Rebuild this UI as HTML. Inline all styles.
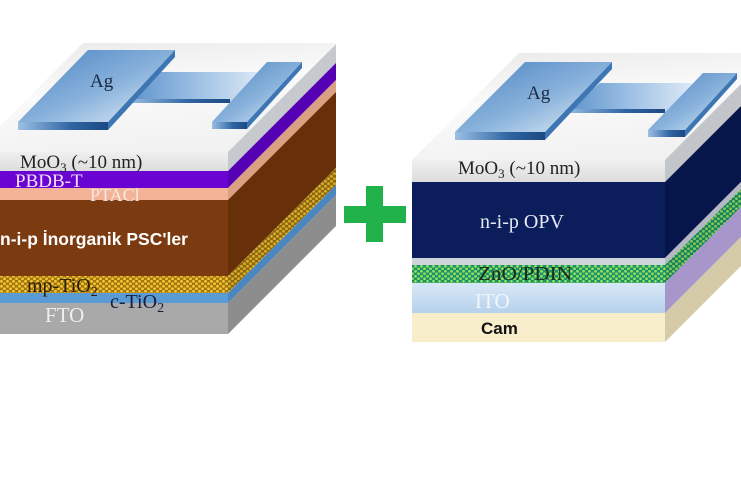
<!DOCTYPE html>
<html><head><meta charset="utf-8"><style>
html,body{margin:0;padding:0;background:#fff;}
svg{display:block;}
.s{font-family:"Liberation Serif",serif;}
.b{font-family:"Liberation Sans",sans-serif;font-weight:bold;}
</style></head><body>
<svg width="741" height="486" viewBox="0 0 741 486" xmlns="http://www.w3.org/2000/svg">
<defs>
<pattern id="py" width="6" height="5" patternUnits="userSpaceOnUse">
<rect width="6" height="5" fill="#a5760e"/>
<circle cx="1.5" cy="1.3" r="1.4" fill="#f4c935"/>
<circle cx="4.5" cy="3.8" r="1.4" fill="#f4c935"/>
</pattern>
<pattern id="pg" width="6" height="5" patternUnits="userSpaceOnUse">
<rect width="6" height="5" fill="#17946a"/>
<circle cx="1.5" cy="1.3" r="1.4" fill="#9ade5e"/>
<circle cx="4.5" cy="3.8" r="1.4" fill="#9ade5e"/>
</pattern>
<linearGradient id="top" x1="0" y1="0" x2="0.3" y2="1">
<stop offset="0" stop-color="#e9e9e9"/><stop offset="0.5" stop-color="#fafafa"/><stop offset="1" stop-color="#f2f2f2"/>
</linearGradient>
<linearGradient id="moo" x1="0" y1="0" x2="0" y2="1">
<stop offset="0" stop-color="#f0f0f0"/><stop offset="1" stop-color="#dcdcdc"/>
</linearGradient>
<linearGradient id="ag" x1="0" y1="0" x2="1" y2="1">
<stop offset="0" stop-color="#4a82c2"/><stop offset="0.55" stop-color="#8ab3dc"/><stop offset="1" stop-color="#e8f0f8"/>
</linearGradient>
<linearGradient id="agb" x1="0" y1="0" x2="1" y2="0">
<stop offset="0" stop-color="#5c92cc"/><stop offset="0.6" stop-color="#a8c8e8"/><stop offset="1" stop-color="#dfeaf6"/>
</linearGradient>
<linearGradient id="edge" x1="0" y1="0" x2="1" y2="0">
<stop offset="0" stop-color="#9cc0e4"/><stop offset="0.6" stop-color="#2e64a2"/><stop offset="1" stop-color="#1d4a82"/>
</linearGradient>
<linearGradient id="ito" x1="0" y1="0" x2="0" y2="1">
<stop offset="0" stop-color="#d8e8f6"/><stop offset="1" stop-color="#b7d2ec"/>
</linearGradient>
</defs>

<!-- LEFT BLOCK -->
<polygon points="-26,152 83,43 336,43 228,152" fill="url(#top)"/>
<!-- front -->
<rect x="0" y="152" width="228" height="19" fill="url(#moo)"/>
<rect x="0" y="171" width="228" height="17" fill="#6a04d2"/>
<rect x="0" y="188" width="228" height="12" fill="#f2b396"/>
<rect x="0" y="200" width="228" height="76" fill="#7b3a10"/>
<rect x="0" y="276" width="228" height="17" fill="url(#py)"/>
<rect x="0" y="293" width="228" height="10" fill="#5b9bd5"/>
<rect x="0" y="303" width="228" height="31" fill="#a9a9a9"/>
<!-- side -->
<polygon points="228,152 336,44 336,63 228,171" fill="#c6c9cd"/>
<polygon points="228,171 336,63 336,80 228,188" fill="#5500b4"/>
<polygon points="228,188 336,80 336,92 228,200" fill="#dba083"/>
<polygon points="228,200 336,92 336,168 228,276" fill="#673008"/>
<polygon points="228,276 336,168 336,185 228,293" fill="url(#py)"/>
<polygon points="228,276 336,168 336,185 228,293" fill="#000" opacity="0.12"/>
<polygon points="228,293 336,185 336,195 228,303" fill="#4a86c0"/>
<polygon points="228,303 336,195 336,226 228,334" fill="#8d8d8d"/>

<!-- left Ag -->
<polygon points="160,72 262,72 230,103 128,103" fill="url(#agb)"/>
<polygon points="128,99 230,99 230,103 128,103" fill="url(#edge)"/>
<polygon points="88,50 175,50 108,122 18,122" fill="url(#ag)"/>
<polygon points="18,122 108,122 108,130 18,130" fill="url(#edge)"/>
<polygon points="175,50 175,57 108,130 108,122" fill="#3e76b4"/>
<polygon points="267,62 302,62 247,122 212,122" fill="url(#ag)"/>
<polygon points="212,122 247,122 247,129 212,129" fill="url(#edge)"/>
<polygon points="302,62 302,68 247,129 247,122" fill="#3e76b4"/>

<!-- left texts -->
<text class="s" x="90" y="87" font-size="19" fill="#1b2a44">Ag</text>
<text class="s" x="20" y="168" font-size="19" fill="#222">MoO<tspan font-size="13" dy="4">3</tspan><tspan dy="-4"> (~10 nm)</tspan></text>
<text class="s" x="15" y="187" font-size="19" fill="#efe2ff">PBDB-T</text>
<text class="s" x="90" y="201" font-size="18" fill="#f8e8e4">PTACl</text>
<text class="b" x="0" y="245" font-size="17.5" fill="#ffffff">n-i-p İnorganik PSC'ler</text>
<text class="s" x="27" y="292" font-size="20" fill="#2b1c0c">mp-TiO<tspan font-size="14" dy="4">2</tspan></text>
<text class="s" x="110" y="308" font-size="20" fill="#1a1f3a">c-TiO<tspan font-size="14" dy="4">2</tspan></text>
<text class="s" x="45" y="322" font-size="21" fill="#eeeeee">FTO</text>

<!-- PLUS -->
<rect x="366" y="186" width="17" height="56" fill="#22b24c"/>
<rect x="344" y="206" width="62" height="17" fill="#22b24c"/>

<!-- RIGHT BLOCK -->
<polygon points="412,160 519,53 772,53 665,160" fill="url(#top)"/>
<rect x="412" y="160" width="253" height="22" fill="url(#moo)"/>
<rect x="412" y="182" width="253" height="76" fill="#0b1e5b"/>
<rect x="412" y="258" width="253" height="7" fill="#d0d4db"/>
<rect x="412" y="265" width="253" height="18" fill="url(#pg)"/>
<rect x="412" y="283" width="253" height="30" fill="url(#ito)"/>
<rect x="412" y="313" width="253" height="29" fill="#f9eecb"/>
<!-- side -->
<polygon points="665,160 772,53 772,75 665,182" fill="#c2c5ca"/>
<polygon points="665,182 772,75 772,151 665,258" fill="#06164a"/>
<polygon points="665,258 772,151 772,158 665,265" fill="#b4b8c4"/>
<polygon points="665,265 772,158 772,176 665,283" fill="url(#pg)"/>
<polygon points="665,265 772,158 772,176 665,283" fill="#000" opacity="0.1"/>
<polygon points="665,283 772,176 772,206 665,313" fill="#a696c9"/>
<polygon points="665,313 772,206 772,235 665,342" fill="#d6cba8"/>

<!-- right Ag -->
<polygon points="600,83 693,83 665,113 565,113" fill="url(#agb)"/>
<polygon points="565,109 665,109 665,113 565,113" fill="url(#edge)"/>
<polygon points="525,62 612,62 545,132 455,132" fill="url(#ag)"/>
<polygon points="455,132 545,132 545,140 455,140" fill="url(#edge)"/>
<polygon points="612,62 612,69 545,140 545,132" fill="#3e76b4"/>
<polygon points="703,73 737,73 685,130 648,130" fill="url(#ag)"/>
<polygon points="648,130 685,130 685,137 648,137" fill="url(#edge)"/>
<polygon points="737,73 737,79 685,137 685,130" fill="#3e76b4"/>

<!-- right texts -->
<text class="s" x="527" y="99" font-size="19" fill="#1b2a44">Ag</text>
<text class="s" x="458" y="174" font-size="19" fill="#222">MoO<tspan font-size="13" dy="4">3</tspan><tspan dy="-4"> (~10 nm)</tspan></text>
<text class="s" x="480" y="228" font-size="20" fill="#e6eaf5">n-i-p OPV</text>
<text class="s" x="478" y="280" font-size="20" fill="#1a2a1a" textLength="94" lengthAdjust="spacingAndGlyphs">ZnO/PDIN</text>
<text class="s" x="475" y="308" font-size="21" fill="#f2f6fb">ITO</text>
<text class="b" x="481" y="334" font-size="17" fill="#111">Cam</text>
</svg>
</body></html>
